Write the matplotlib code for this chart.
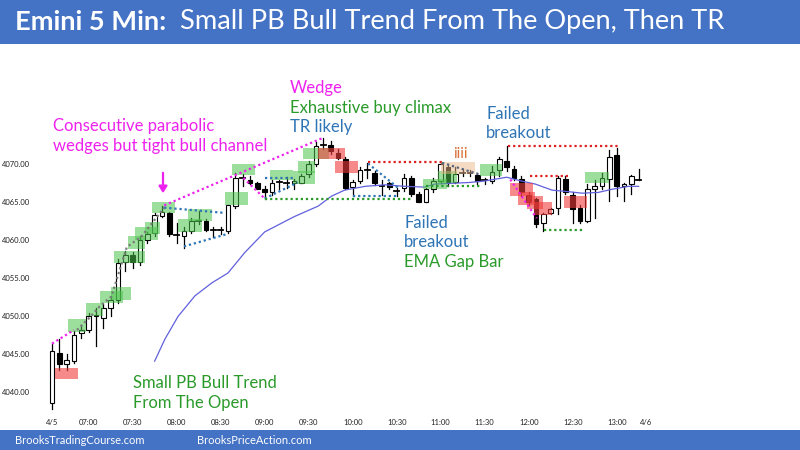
import matplotlib
matplotlib.use("Agg")
import matplotlib.pyplot as plt
from matplotlib.patches import Rectangle

# ---- data (5 min bars, 6:35 .. 13:15) ----
opens = [4038.6, 4045.2, 4043.7, 4044.1, 4047.8, 4048.2, 4050.2, 4049.8, 4051.1, 4052.1,
         4057.1, 4058.0, 4057.1, 4060.0, 4060.9, 4063.2, 4063.6, 4060.8, 4060.6, 4061.2,
         4062.5, 4062.5, 4061.4, 4061.2, 4061.2, 4064.5, 4068.1, 4067.9, 4067.6, 4066.7,
         4066.3, 4067.6, 4067.7, 4067.6, 4067.6, 4068.7, 4070.0, 4072.4, 4072.6, 4071.5,
         4070.7, 4067.0, 4067.8, 4069.1, 4068.9, 4067.3, 4067.5, 4066.6, 4066.9, 4068.2,
         4066.1, 4065.1, 4066.7, 4067.8, 4069.7, 4067.7, 4068.8, 4068.9, 4068.6, 4067.9,
         4067.8, 4069.3, 4070.4, 4069.4, 4068.1, 4065.9, 4065.4, 4062.3, 4063.6, 4064.3,
         4068.1, 4065.9, 4064.3, 4062.5, 4066.7, 4067.1, 4068.1, 4071.2, 4067.1, 4067.4,
         4068.1]
highs = [4046.3, 4047.0, 4045.0, 4048.1, 4048.7, 4050.5, 4051.1, 4051.6, 4052.7, 4057.5,
         4058.6, 4058.5, 4060.6, 4061.1, 4063.6, 4064.5, 4063.7, 4062.3, 4061.7, 4062.9,
         4063.9, 4062.8, 4061.7, 4061.7, 4064.7, 4068.9, 4068.7, 4068.5, 4067.7, 4067.1,
         4068.0, 4068.0, 4068.3, 4068.1, 4068.7, 4070.4, 4072.9, 4073.5, 4073.1, 4072.0,
         4070.9, 4068.0, 4069.6, 4070.2, 4069.1, 4068.0, 4067.7, 4066.9, 4068.7, 4068.5,
         4066.3, 4066.9, 4068.2, 4070.2, 4070.0, 4069.6, 4069.4, 4069.3, 4068.9, 4068.2,
         4069.8, 4070.9, 4072.4, 4069.8, 4068.5, 4066.3, 4065.6, 4063.6, 4064.3, 4068.5,
         4068.4, 4066.3, 4064.7, 4067.4, 4068.0, 4068.9, 4071.9, 4072.1, 4067.6, 4068.6,
         4069.4]
lows = [4037.8, 4043.0, 4043.0, 4043.9, 4047.2, 4047.9, 4046.1, 4048.4, 4050.0, 4051.8,
        4056.0, 4056.4, 4056.8, 4059.7, 4060.6, 4063.1, 4060.6, 4059.7, 4059.0, 4061.0,
        4062.2, 4061.2, 4060.4, 4060.8, 4061.0, 4064.3, 4067.1, 4067.4, 4066.7, 4065.4,
        4065.9, 4066.7, 4066.9, 4066.8, 4067.5, 4068.3, 4069.8, 4072.0, 4071.3, 4070.7,
        4066.7, 4065.8, 4067.6, 4068.2, 4067.3, 4066.0, 4066.7, 4065.8, 4066.5, 4065.8,
        4065.0, 4065.0, 4066.3, 4067.6, 4067.2, 4067.6, 4068.5, 4068.4, 4067.4, 4067.4,
        4067.6, 4068.5, 4069.1, 4068.0, 4065.8, 4064.7, 4061.8, 4061.2, 4063.4, 4063.4,
        4066.1, 4062.3, 4062.3, 4062.4, 4063.0, 4066.7, 4065.2, 4065.8, 4065.2, 4066.1,
        4068.0]
closes = [4045.4, 4043.7, 4044.3, 4047.6, 4048.2, 4050.1, 4050.0, 4051.1, 4052.1, 4057.0,
          4058.0, 4057.1, 4060.1, 4060.8, 4063.3, 4063.7, 4060.8, 4060.7, 4061.2, 4062.5,
          4062.6, 4061.4, 4061.3, 4061.3, 4064.6, 4068.2, 4068.2, 4067.6, 4066.8, 4066.3,
          4067.6, 4067.7, 4067.6, 4067.8, 4068.5, 4070.0, 4072.4, 4072.5, 4071.8, 4070.8,
          4066.9, 4067.7, 4069.2, 4069.2, 4067.5, 4067.2, 4067.0, 4066.5, 4068.2, 4066.1,
          4065.1, 4066.7, 4067.8, 4070.0, 4067.6, 4068.7, 4068.9, 4068.9, 4067.8, 4068.0,
          4069.0, 4070.7, 4069.6, 4068.2, 4066.3, 4065.0, 4062.1, 4063.4, 4064.1, 4068.2,
          4066.4, 4064.1, 4062.5, 4066.7, 4067.1, 4068.2, 4071.0, 4067.1, 4067.4, 4068.5,
          4068.0]

# EMA (bar index, price)
ema_bar = [14, 15.4, 17.2, 19.5, 21.8, 24, 26.3, 29, 33, 36.3, 38.1, 39.9, 42.7, 45.4,
           48.1, 50.8, 52.2, 56.8, 59, 62, 64, 65.9, 68.2, 70.4, 72.3, 74.5, 76.3, 78.6, 80]
ema_val = [4044.1, 4047.0, 4050.0, 4052.7, 4054.4, 4055.7, 4058.4, 4061.1, 4063.1, 4064.5,
           4065.8, 4066.6, 4067.1, 4067.3, 4067.1, 4067.0, 4067.4, 4067.6, 4067.8, 4068.3,
           4067.8, 4067.4, 4066.6, 4066.4, 4066.2, 4066.3, 4066.7, 4067.1, 4067.1]

tick_bars = [0, 5, 11, 17, 23, 29, 35, 41, 47, 53, 59, 65, 71, 77, 81]
tick_labels = ["4/5", "07:00", "07:30", "08:00", "08:30", "09:00", "09:30", "10:00",
               "10:30", "11:00", "11:30", "12:00", "12:30", "13:00", "4/6"]
price_ticks = [4040, 4045, 4050, 4055, 4060, 4065, 4070]

# highlight boxes: bar from, bar to, price low, price high, kind
boxes = [
    (0.4, 3.6, 4041.8, 4043.2, "r"),
    (2.2, 4.7, 4048.0, 4049.6, "g"), (4.6, 6.9, 4050.1, 4051.7, "g"),
    (6.5, 9.7, 4051.8, 4053.3, "g"), (8.1, 10.8, 4052.2, 4053.8, "g"),
    (8.5, 12.7, 4057.0, 4058.6, "g"), (10.3, 12.7, 4058.8, 4060.5, "g"),
    (11.3, 14.5, 4060.1, 4061.7, "g"), (12.7, 14.7, 4060.8, 4062.4, "g"),
    (13.6, 16.8, 4063.6, 4065.0, "g"), (17.2, 20.4, 4061.1, 4062.8, "g"),
    (18.6, 21.8, 4062.5, 4064.1, "g"), (23.6, 26.7, 4064.6, 4066.3, "g"),
    (24.5, 27.7, 4068.6, 4070.0, "g"), (29.7, 32.9, 4068.0, 4069.3, "g"),
    (32.9, 35.8, 4067.4, 4069.1, "g"), (33.6, 35.8, 4068.9, 4070.4, "g"),
    (34.2, 37.8, 4070.7, 4072.2, "g"),
    (36.3, 39.9, 4070.7, 4072.2, "r"), (38.6, 41.7, 4068.9, 4070.4, "r"),
    (50.6, 53.9, 4066.7, 4068.0, "g"), (52.7, 55.2, 4067.5, 4069.1, "g"),
    (53.1, 57.7, 4068.7, 4070.3, "p"),
    (58.4, 61.3, 4068.5, 4070.0, "g"),
    (62.5, 65.6, 4065.8, 4067.6, "r"), (63.6, 65.9, 4064.7, 4066.3, "r"),
    (64.8, 67.0, 4064.1, 4065.8, "r"), (65.7, 68.2, 4063.3, 4065.0, "r"),
    (69.8, 72.9, 4064.3, 4065.8, "r"),
    (72.7, 75.9, 4067.5, 4069.0, "g"),
]
box_colors = {"g": ("#4cc44c", 0.55), "r": ("#f03c3c", 0.6), "p": ("#eeb88a", 0.5)}

# dotted lines: list of (bar, price) points and colour
MAG, BLU, GRN, RED, GRY = "#ee22ee", "#2e75b6", "#2a9a2a", "#e02020", "#7a7a7a"
lines = [
    ([(0, 4046.4), (3.0, 4048.2)], MAG),
    ([(3.4, 4048.2), (5.0, 4049.7), (6.5, 4051.3), (8.1, 4052.6), (10.2, 4059.1),
      (12.2, 4060.5), (14.0, 4062.7), (15.4, 4064.4)], GRY),
    ([(15.3, 4064.6), (37, 4073.5)], MAG),
    ([(26.1, 4068.2), (29.0, 4065.5)], MAG),
    ([(15.3, 4064.3), (23.6, 4063.6)], BLU),
    ([(18.0, 4059.2), (23.8, 4060.8)], BLU),
    ([(29.0, 4068.2), (33.0, 4068.2)], BLU),
    ([(29.0, 4065.5), (33.5, 4067.6)], BLU),
    ([(29.0, 4065.4), (49.0, 4065.4)], GRN),
    ([(43.1, 4070.1), (47.2, 4066.9)], BLU),
    ([(41.1, 4065.8), (47.0, 4065.8)], BLU),
    ([(43.1, 4070.3), (53.2, 4070.3)], RED),
    ([(53.2, 4070.2), (58.2, 4068.7)], "#55657f"),
    ([(51.0, 4067.1), (58.4, 4067.1)], GRN),
    ([(62.2, 4072.4), (77.2, 4072.4)], RED),
    ([(62.5, 4068.0), (66.1, 4062.9)], MAG),
    ([(65.2, 4068.5), (70.4, 4068.5)], RED),
    ([(67.1, 4061.4), (72.3, 4061.4)], GRN),
]

W, H = 800, 450
plt.rcParams['font.family'] = ['Lato', 'DejaVu Sans']
fig = plt.figure(figsize=(8, 4.5), dpi=100)


def fx(x):
    return x / W


def fy(y):
    return 1 - y / H


# axes placed so bar i sits at x = 52 + 7.333 i and price 4070 at y = 164.3
ax_l, ax_r, ax_t, ax_b = 36, 795, 50, 415
ax = fig.add_axes([fx(ax_l), fy(ax_b), fx(ax_r - ax_l), (ax_b - ax_t) / H])
step_x, step_y = 7.333, 7.6
ax.set_xlim((ax_l - 52) / step_x, (ax_r - 52) / step_x)
ax.set_ylim(4070 - (ax_b - 164.3) / step_y, 4070 + (164.3 - ax_t) / step_y)
for s in ax.spines.values():
    s.set_visible(False)
ax.set_xticks(tick_bars)
ax.set_xticklabels(tick_labels)
ax.set_yticks(price_ticks)
ax.set_yticklabels([f"{p:.2f}" for p in price_ticks])
ax.tick_params(length=0, labelsize=5.5, labelcolor="#222222", pad=4)
ax.tick_params(axis="x", pad=3)

# candles
bw = 0.62
for i, (o, h, l, c) in enumerate(zip(opens, highs, lows, closes)):
    ax.plot([i, i], [l, h], color="black", lw=0.9, zorder=2)
    lo, hi = min(o, c), max(o, c)
    fc = "white" if c >= o else "black"
    if hi - lo < 0.15:
        ax.plot([i - bw / 2, i + bw / 2], [c, c], color="black", lw=1.3, zorder=3)
    else:
        ax.add_patch(Rectangle((i - bw / 2, lo), bw, hi - lo, facecolor=fc,
                               edgecolor="black", lw=0.8, zorder=3))

ax.plot(ema_bar, ema_val, color="#6060dd", lw=0.9, zorder=4)

for x0, x1, p0, p1, k in boxes:
    col, al = box_colors[k]
    ax.add_patch(Rectangle((x0, p0), x1 - x0, p1 - p0, facecolor=col, alpha=al,
                           edgecolor="none", zorder=5))

for pts, col in lines:
    xs = [p[0] for p in pts]
    ys = [p[1] for p in pts]
    ax.plot(xs, ys, color=col, lw=1.6, linestyle=(0, (1, 1.3)), zorder=6)

# header and footer bands
fig.patches.append(Rectangle((0, fy(44)), 1, 44 / H, transform=fig.transFigure,
                             facecolor="#4472c4", edgecolor="none", zorder=0))
fig.patches.append(Rectangle((0, 0), 1, 20 / H, transform=fig.transFigure,
                             facecolor="#4472c4", edgecolor="none", zorder=0))
fig.text(fx(15), fy(22), "Emini 5 Min:", color="white", fontsize=19.6,
         fontweight="bold", va="center")
fig.text(fx(180), fy(22), "Small PB Bull Trend From The Open, Then TR", color="white",
         fontsize=19.6, va="center")
fig.text(fx(15), fy(440), "BrooksTradingCourse.com", color="white", fontsize=8, va="center")
fig.text(fx(197), fy(440), "BrooksPriceAction.com", color="white", fontsize=8, va="center")

# annotations
ann = [
    (53, 126, "Consecutive parabolic", MAG),
    (53, 146, "wedges but tight bull channel", MAG),
    (290, 88, "Wedge", MAG),
    (290, 108, "Exhaustive buy climax", GRN),
    (290, 127, "TR likely", BLU),
    (486, 114, "Failed", BLU),
    (486, 133, "breakout", BLU),
    (404, 223, "Failed", BLU),
    (404, 242, "breakout", BLU),
    (404, 262, "EMA Gap Bar", GRN),
    (133, 383, "Small PB Bull Trend", GRN),
    (133, 403, "From The Open", GRN),
]
for x, y, s, col in ann:
    fig.text(fx(x), fy(y), s, color=col, fontsize=12, va="center")
fig.text(fx(453), fy(154), "iiii", color="#d9733a", fontsize=11, va="center")

fig.add_artist(matplotlib.patches.FancyArrowPatch(
    (fx(163), fy(170)), (fx(163), fy(196)), transform=fig.transFigure,
    arrowstyle="-|>,head_length=4,head_width=2.5", color=MAG, lw=1.6))

fig.savefig("out.png", dpi=100)
